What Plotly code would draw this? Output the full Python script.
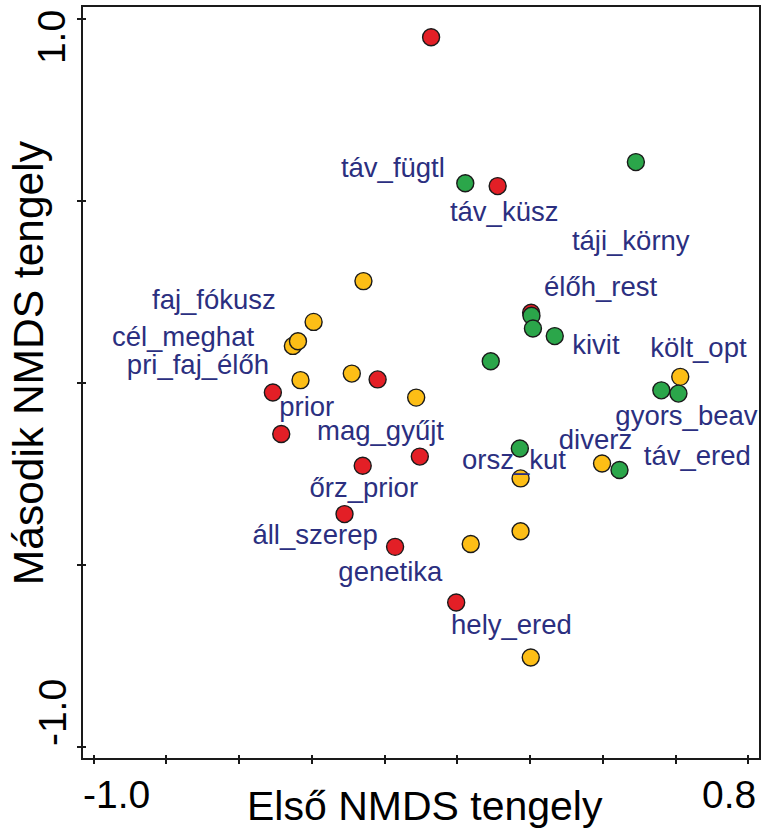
import plotly.graph_objects as go

# ---- data ----
red_x = [-0.072, 0.111, 0.203, -0.507, -0.219, -0.484, -0.103, -0.260, -0.310, -0.171, -0.003]
red_y = [0.949, 0.540, 0.192, -0.027, 0.009, -0.141, -0.203, -0.228, -0.361, -0.451, -0.604]

green_x = [0.491, 0.022, 0.204, 0.208, 0.268, 0.092, 0.561, 0.608, 0.172, 0.446]
green_y = [0.606, 0.548, 0.184, 0.149, 0.128, 0.059, -0.021, -0.030, -0.181, -0.240]

yellow_x = [-0.258, -0.395, -0.452, -0.438, -0.431, -0.290, -0.113, 0.613, 0.398, 0.174, 0.174, 0.037, 0.202]
yellow_y = [0.279, 0.167, 0.101, 0.114, 0.007, 0.025, -0.041, 0.016, -0.222, -0.263, -0.408, -0.443, -0.755]

labels = ["táv_fügtl", "táv_küsz", "táji_körny", "élőh_rest", "kivit", "költ_opt",
          "gyors_beav", "diverz", "táv_ered", "orsz_kut", "faj_fókusz", "cél_meghat",
          "pri_faj_élőh", "prior", "mag_gyűjt", "őrz_prior", "áll_szerep", "genetika",
          "hely_ered"]
label_x = [-0.177, 0.129, 0.477, 0.394, 0.381, 0.663, 0.630, 0.380, 0.660, 0.156,
           -0.669, -0.754, -0.713, -0.414, -0.211, -0.257, -0.391, -0.184, 0.149]
label_y = [0.583, 0.462, 0.382, 0.257, 0.098, 0.089, -0.097, -0.163, -0.207, -0.217,
           0.222, 0.119, 0.043, -0.073, -0.139, -0.295, -0.423, -0.527, -0.671]

x_ticks = [-1.0, -0.8, -0.6, -0.4, -0.2, 0.0, 0.2, 0.4, 0.6, 0.8]
y_ticks = [-1.0, -0.5, 0.0, 0.5, 1.0]
x_tick_labels = ["-1.0", "0.8"]
y_tick_labels = ["-1.0", "1.0"]
x_title = "Első NMDS tengely"
y_title = "Második NMDS tengely"

x_range = [-1.029, 0.8295]
y_range = [-1.031, 1.032]

# ---- styles ----
RED = "#E31F26"
GREEN = "#2BA64A"
YELLOW = "#FDBE16"
NAVY = "#2B2F80"
FONT = "Liberation Sans, Arial, sans-serif"

W, H = 763, 834
ML, MR, MT, MB = 83, 2, 7, 76
PW, PH = W - ML - MR, H - MT - MB


def paper(px, py):
    return (px - ML) / PW, (H - MB - py) / PH


def marker(color):
    return dict(size=17, color=color, line=dict(color="#1a1a1a", width=1.4))


fig = go.Figure()
fig.add_trace(go.Scatter(x=yellow_x, y=yellow_y, mode="markers", marker=marker(YELLOW),
                         hoverinfo="skip", showlegend=False))
fig.add_trace(go.Scatter(x=red_x, y=red_y, mode="markers", marker=marker(RED),
                         hoverinfo="skip", showlegend=False))
fig.add_trace(go.Scatter(x=green_x, y=green_y, mode="markers", marker=marker(GREEN),
                         hoverinfo="skip", showlegend=False))
fig.add_trace(go.Scatter(x=label_x, y=label_y, mode="text", text=labels,
                         textposition="middle center", cliponaxis=False,
                         textfont=dict(family=FONT, size=27.5, color=NAVY),
                         hoverinfo="skip", showlegend=False))
# overlay axes carrying the inner half of the crossing ticks
fig.add_trace(go.Scatter(x=[], y=[], xaxis="x2", yaxis="y2", showlegend=False))

axis_common = dict(showgrid=False, zeroline=False, showticklabels=False,
                   ticks="outside", ticklen=4, tickwidth=1.5, tickcolor="#1a1a1a")
fig.update_layout(
    width=W, height=H,
    margin=dict(l=ML, r=MR, t=MT, b=MB),
    paper_bgcolor="white", plot_bgcolor="white",
    xaxis=dict(range=x_range, tickvals=x_ticks, showline=True, linewidth=2,
               linecolor="#1a1a1a", mirror=True, **axis_common),
    yaxis=dict(range=y_range, tickvals=y_ticks, showline=True, linewidth=2,
               linecolor="#1a1a1a", mirror=True, **axis_common),
    xaxis2=dict(range=x_range, tickvals=x_ticks, overlaying="x", anchor="y2",
                side="bottom", showgrid=False, zeroline=False, showticklabels=False,
                ticks="inside", ticklen=3, tickwidth=1.5, tickcolor="#1a1a1a",
                showline=False),
    yaxis2=dict(range=y_range, tickvals=y_ticks, overlaying="y", anchor="x2",
                side="left", showgrid=False, zeroline=False, showticklabels=False,
                ticks="inside", ticklen=3, tickwidth=1.5, tickcolor="#1a1a1a",
                showline=False),
)

ann = []
tick_font = dict(family=FONT, size=39, color="black")
# x tick labels at the extremes
for txt, (px, py) in zip(x_tick_labels, [(117, 794), (731, 794)]):
    xp, yp = paper(px, py)
    ann.append(dict(text=txt, x=xp, y=yp, xref="paper", yref="paper",
                    xanchor="center", yanchor="middle", showarrow=False, font=tick_font))
# y tick labels (rotated)
for txt, (px, py) in zip(y_tick_labels, [(52, 713), (52, 37)]):
    xp, yp = paper(px, py)
    ann.append(dict(text=txt, x=xp, y=yp, xref="paper", yref="paper", textangle=-90,
                    xanchor="center", yanchor="middle", showarrow=False, font=tick_font))
xp, yp = paper(426, 806)
ann.append(dict(text=x_title, x=xp, y=yp, xref="paper", yref="paper",
                xanchor="center", yanchor="middle", showarrow=False,
                font=dict(family=FONT, size=41, color="black")))
xp, yp = paper(28, 363)
ann.append(dict(text=y_title, x=xp, y=yp, xref="paper", yref="paper", textangle=-90,
                xanchor="center", yanchor="middle", showarrow=False,
                font=dict(family=FONT, size=42.5, color="black")))
fig.update_layout(annotations=ann)

fig.write_html("out.html",
               config={"displayModeBar": False},
               post_script="document.body.style.margin='0';"
                           "document.body.style.overflow='hidden';")
